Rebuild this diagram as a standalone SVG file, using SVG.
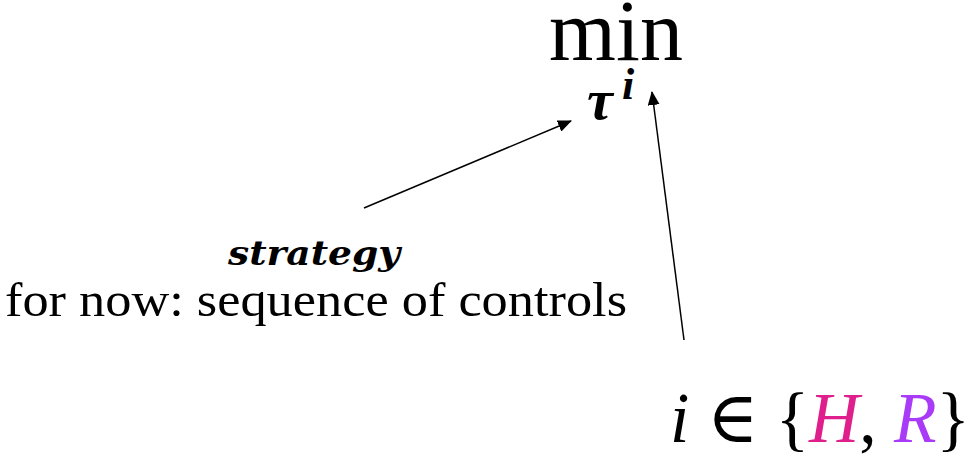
<svg xmlns="http://www.w3.org/2000/svg" width="975" height="458" viewBox="0 0 975 458">
<style>
.serif{font-family:"Liberation Serif","DejaVu Serif",serif;fill:#000}
.conn{stroke:#000;stroke-width:1.5;fill:none;marker-end:url(#ah)}
</style>
<defs>
<marker id="ah" markerWidth="14" markerHeight="12" refX="13" refY="6" orient="auto" markerUnits="userSpaceOnUse" viewBox="0 0 14 12">
<path d="M0,0 L14,6 L0,12 Z" fill="#000"/>
</marker>
</defs>
<rect width="975" height="458" fill="#fff"/>
<g id="objective">
<text class="serif" x="616" y="60" font-size="86" text-anchor="middle">min</text>
<text class="serif" x="587" y="119" font-size="58" font-style="italic" font-weight="bold">τ</text>
<text class="serif" x="622" y="99" font-size="44" font-style="italic" font-weight="bold">i</text>
</g>
<g id="strategy">
<text x="228" y="265" font-family="'DejaVu Serif',serif" font-size="34" font-style="italic" font-weight="bold" textLength="172" lengthAdjust="spacingAndGlyphs">strategy</text>
<text class="serif" x="5" y="316" font-size="48" textLength="622" lengthAdjust="spacingAndGlyphs">for now: sequence of controls</text>
</g>
<g id="players">
<text class="serif" x="670" y="442" font-size="72" textLength="300" lengthAdjust="spacingAndGlyphs"><tspan font-style="italic">i</tspan> ∈ {<tspan font-style="italic" fill="#DF1F8C">H</tspan>, <tspan font-style="italic" fill="#A83AF8">R</tspan>}</text>
</g>
<g id="connectors">
<line class="conn" x1="364" y1="208" x2="571" y2="121"/>
<line class="conn" x1="684" y1="340" x2="652" y2="92"/>
</g>
</svg>
